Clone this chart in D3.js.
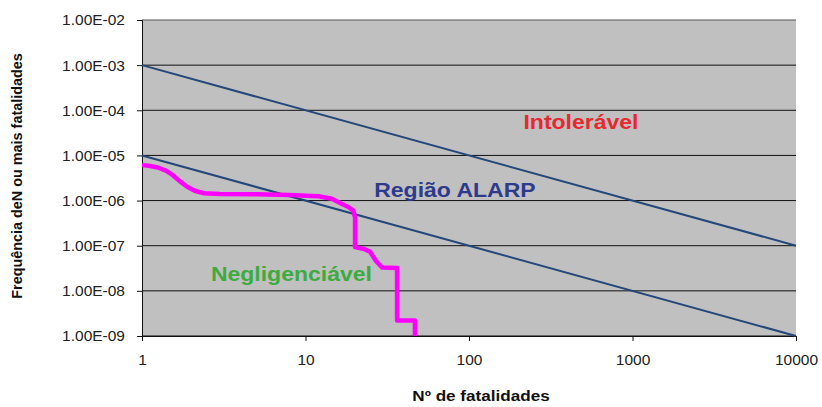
<!DOCTYPE html>
<html><head><meta charset="utf-8">
<script src="https://cdn.jsdelivr.net/npm/d3@7"></script>
<style>body{margin:0;background:#fff;}svg{display:block;font-family:"Liberation Sans",Arial,sans-serif;}</style>
</head><body><svg id="c" width="822" height="407"></svg>
<script>
const xTicks = [1, 10, 100, 1000, 10000];
const yTicks = [1e-9, 1e-8, 1e-7, 1e-6, 1e-5, 1e-4, 1e-3, 1e-2];
const yTickLabels = ["1.00E-09","1.00E-08","1.00E-07","1.00E-06","1.00E-05","1.00E-04","1.00E-03","1.00E-02"];
const upperLineN = [1, 10000];
const upperLineF = [1e-3, 1e-7];
const lowerLineN = [1, 10000];
const lowerLineF = [1e-5, 1e-9];
const curveN = [1, 1.1, 1.25, 1.4, 1.55, 1.7, 1.9, 2.1, 2.4, 3, 5, 8, 12, 14.5, 16.5, 18.3, 19.6, 20.1, 20.1, 22.5, 24.8, 27, 29.4, 36.3, 36.3, 46.7, 46.7];
const curveF = [6.1e-6, 5.9e-6, 5.4e-6, 4.6e-6, 3.6e-6, 2.7e-6, 2.0e-6, 1.65e-6, 1.45e-6, 1.4e-6, 1.38e-6, 1.33e-6, 1.25e-6, 1.1e-6, 8.6e-7, 7.2e-7, 6e-7, 4.2e-7, 9.3e-8, 8.6e-8, 7.4e-8, 4.6e-8, 3.3e-8, 3.2e-8, 2.2e-9, 2.2e-9, 1e-9];
const regionLabels = ["Intolerável", "Região ALARP", "Negligenciável"];
const regionN = [484, 82, 8.2];
const regionF = [4.97e-5, 1.55e-6, 2.13e-8];
const regionColors = ["#e8282e", "#2e3a8c", "#3dab3f"];

const svg = d3.select("#c");
const L = 142, R = 796, T = 20, B = 336;
const SX = 1.18; // horizontal stretch of the text in the reference
const x = d3.scaleLog().domain([1, 10000]).range([L, R]);
const y = d3.scaleLog().domain([1e-9, 1e-2]).range([B, T]);

svg.append("rect").attr("x", L).attr("y", T).attr("width", R - L).attr("height", B - T).attr("fill", "#c0c0c0");

// gridlines
svg.append("g").selectAll("line").data(yTicks).join("line")
  .attr("x1", L).attr("x2", R).attr("y1", d => y(d)).attr("y2", d => y(d))
  .attr("stroke", d => d === 1e-2 ? "#555" : "#111").attr("stroke-width", 1);

// y axis
const yAxis = d3.axisLeft(y).tickValues(yTicks).tickFormat((d, i) => yTickLabels[i]).tickSize(5).tickPadding(12);
const gy = svg.append("g").attr("transform", `translate(${L},0)`).call(yAxis);
gy.select(".domain").attr("stroke", "#111");
gy.selectAll(".tick line").attr("stroke", "#111");
gy.selectAll("text").attr("font-size", 15.5).attr("fill", "#222").attr("font-family", "Liberation Sans, Arial");

// x axis
const xAxis = d3.axisBottom(x).tickValues(xTicks).tickFormat(d3.format("d")).tickSize(5).tickPadding(13);
const gx = svg.append("g").attr("transform", `translate(0,${B})`).call(xAxis);
gx.select(".domain").attr("stroke", "#111");
gx.selectAll(".tick line").attr("stroke", "#111");
gx.selectAll("text").attr("font-size", 15.5).attr("fill", "#222").attr("font-family", "Liberation Sans, Arial");

// criterion lines
const line = d3.line().x(d => x(d[0])).y(d => y(d[1]));
svg.append("path").datum(upperLineN.map((n, i) => [n, upperLineF[i]])).attr("d", line)
  .attr("fill", "none").attr("stroke", "#24477a").attr("stroke-width", 2);
svg.append("path").datum(lowerLineN.map((n, i) => [n, lowerLineF[i]])).attr("d", line)
  .attr("fill", "none").attr("stroke", "#24477a").attr("stroke-width", 2);

// FN curve
svg.append("path").datum(curveN.map((n, i) => [n, curveF[i]])).attr("d", line)
  .attr("fill", "none").attr("stroke", "#ff00ff").attr("stroke-width", 4.5)
  .attr("stroke-linejoin", "round").attr("stroke-linecap", "butt");

// region labels
svg.append("g").selectAll("text").data(regionLabels).join("text")
  .attr("transform", (d, i) => `translate(${x(regionN[i])},${y(regionF[i])}) scale(${SX},1)`)
  .attr("text-anchor", "middle").attr("dominant-baseline", "middle")
  .attr("font-size", 19.5).attr("font-weight", "bold")
  .attr("fill", (d, i) => regionColors[i]).text(d => d);

// axis titles
svg.append("text").attr("transform", `translate(481,401) scale(${SX},1)`).attr("text-anchor", "middle")
  .attr("font-size", 14.5).attr("font-weight", "bold").attr("fill", "#111").text("Nº de fatalidades");
svg.append("text").attr("transform", "translate(22,176) rotate(-90)").attr("text-anchor", "middle")
  .attr("font-size", 14.4).attr("font-weight", "bold").attr("fill", "#111").text("Frequência deN ou mais fatalidades");
</script></body></html>
